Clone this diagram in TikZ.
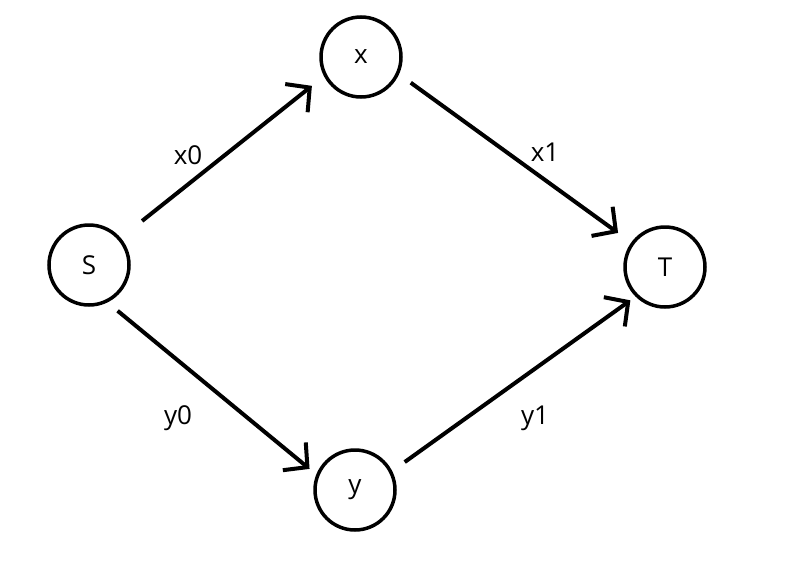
\documentclass[tikz,border=0pt]{standalone}
\usepackage{fontspec}
\setmainfont{Open Sans}
\usetikzlibrary{arrows.meta}

\tikzset{
  state/.style={draw,circle,line width=3.5pt,minimum size=80pt,inner sep=0pt,outer sep=14pt,font=\fontsize{26}{30}\selectfont},
  flow/.style={line width=4pt,-{Straight Barb[length=17pt,width=36pt,line width=4pt]}},
  lbl/.style={font=\fontsize{26}{30}\selectfont}
}

\begin{document}
\begin{tikzpicture}[x=1pt,y=-1pt]
\useasboundingbox (0,0) rectangle (793,565);

% nodes
\node[state] (S) at (89,265) {S};
\node[state] (x) at (361,57) {x};
\node[state] (T) at (665,267) {T};
\node[state] (y) at (355,490) {y};

% edges
\draw[flow,shorten <=15pt,shorten >=3pt] (S.40) -- (x.210);
\draw[flow,shorten <=2pt,shorten >=4pt] (x.-27) -- (T.144);
\draw[flow,shorten >=-4pt] (S.-58) -- (y.154);
\draw[flow,shorten <=3pt,shorten >=-6pt] (y.29) -- (T.223);

% labels
\node[lbl] (lx0) at (188,155) {x0};
\node[lbl] (lx1) at (545,152) {x1};
\node[lbl] (ly0) at (178,418) {y0};
\node[lbl] (ly1) at (535,418) {y1};

\end{tikzpicture}
\end{document}
